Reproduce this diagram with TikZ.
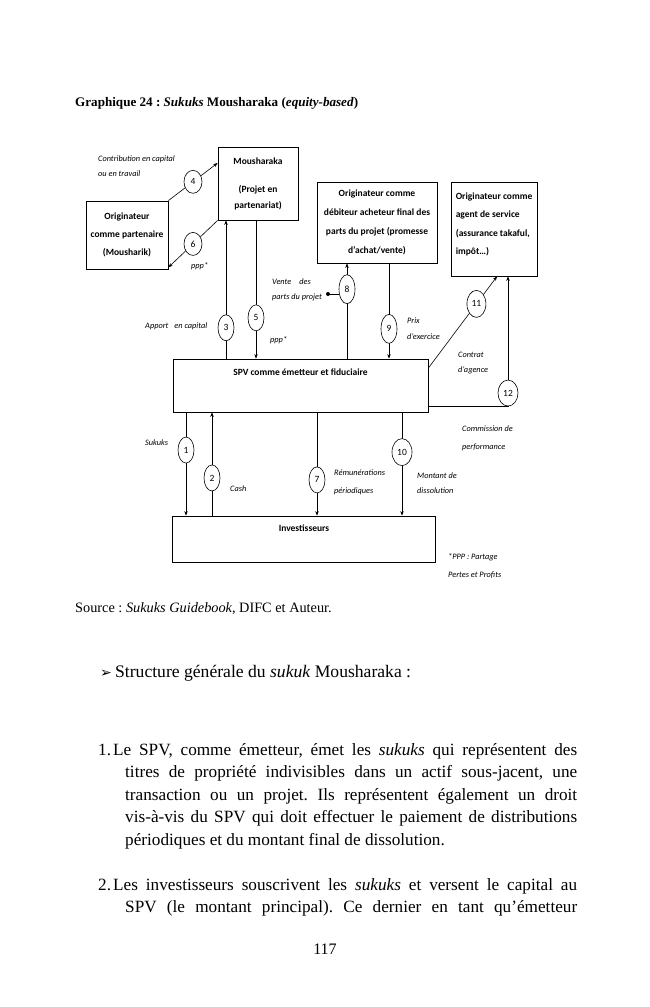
\documentclass[tikz,border=0pt]{standalone}
\usepackage{fontspec}
\setmainfont{Liberation Serif}
\newfontfamily\dia{Carlito}
\newfontfamily\dej{DejaVu Sans}
\usetikzlibrary{arrows.meta,shapes.geometric}
\newcommand{\bodyfont}{\fontsize{17.2}{22.5}\selectfont}
\frenchspacing
\begin{document}
\begin{tikzpicture}[x=1pt,y=-1pt,
 box/.style={draw, line width=0.8pt, inner sep=0pt, align=center, font=\dia\bfseries\fontsize{9.5}{18}\selectfont},
 boxtxt/.style={inner sep=0pt, font=\dia\bfseries\fontsize{9.5}{18}\selectfont},
 num/.style={draw, ellipse, fill=white, inner sep=0pt, line width=0.6pt, minimum width=16pt, minimum height=26pt, font=\dia\fontsize{9.5}{10}\selectfont},
 lab/.style={anchor=west, inner sep=0pt, align=left, font=\dia\itshape\fontsize{8.3}{15}\selectfont},
 conn/.style={line width=0.6pt},
 arr/.style={conn, -{Stealth[length=4.5pt,width=3.5pt]}},
 ptext/.style={anchor=base west, inner sep=0pt},
]
\useasboundingbox (0,0) rectangle (650,1007);
\fill[white] (0,0) rectangle (650,1007);

% title
\node[ptext, font=\bfseries\fontsize{13.1}{16}\selectfont] (title) at (75,106.5) {Graphique 24 : \textit{Sukuks} Mousharaka (\textit{equity-based})};

% boxes
\node[box, minimum width=82pt, minimum height=68pt] (op) at (127,235) {Originateur\\comme partenaire\\(Mousharik)};
\node[box, minimum width=80pt, minimum height=73pt, font=\dia\bfseries\fontsize{9.5}{16}\selectfont] (mous) at (258,183.5) {Mousharaka\\[12pt](Projet en\\partenariat)};
\node[box, minimum width=120pt, minimum height=81pt, font=\dia\bfseries\fontsize{9.5}{19}\selectfont] (deb) at (377,222.5) {Originateur comme\\débiteur acheteur final des\\parts du projet (promesse\\d’achat/vente)};
\node[box, minimum width=86pt, minimum height=94pt] (agent) at (494,229) {};
\node[boxtxt, anchor=north west, align=left, font=\dia\bfseries\fontsize{9.5}{18.3}\selectfont] (agenttxt) at ([xshift=5pt,yshift=-11pt]agent.north west) {Originateur comme\\agent de service\\(assurance takaful,\\impôt…)};
\node[box, minimum width=255pt, minimum height=53pt] (spv) at (300.5,385.5) {};
\node[boxtxt] (spvtxt) at (300.5,372) {SPV comme émetteur et fiduciaire};
\node[box, minimum width=263pt, minimum height=46pt] (inv) at (303.5,539) {};
\node[boxtxt] (invtxt) at (304,528.5) {Investisseurs};

% connectors
\draw[arr] (op.north east) -- node[num, minimum width=18pt, minimum height=23pt] {4} ([yshift=20.5pt]mous.west);
\draw[arr] (mous.south west) -- node[num, minimum width=18pt, minimum height=23pt] {6} ([yshift=2pt]op.south east);
\draw[arr] ([xshift=-74.5pt]spv.north) -- node[num, pos=0.223] {3} ([xshift=-32pt]mous.south);
\draw[arr] ([xshift=-2pt]mous.south) -- node[num, pos=0.705] {5} ([xshift=-44.5pt]spv.north);
\draw[arr] ([xshift=46.5pt]spv.north) -- node[num, minimum height=29pt, pos=0.729] (n8) {8} ([xshift=-30pt]deb.south);
\node[circle, fill, inner sep=0pt, minimum size=4pt] (dot) at (328,294) {};
\draw[conn] (dot.center) -- (dot.center -| n8.west);
\draw[arr] ([xshift=12pt]deb.south) -- node[num, minimum height=29pt, pos=0.6875] {9} ([xshift=88.5pt]spv.north);
\draw[arr] ([yshift=17.5pt]spv.east) -- node[num, minimum width=19pt, minimum height=27pt, pos=0.7] {11} ([xshift=3pt]agent.south);
\draw[arr] ([yshift=-20.5pt]spv.east) -| node[num, minimum width=20pt, minimum height=26pt, pos=0.55] {12} ([xshift=14pt]agent.south);
\draw[arr] ([xshift=-114.5pt]spv.south) -- node[num, pos=0.365] {1} ([xshift=-117.5pt]inv.north);
\draw[arr] ([xshift=-91.5pt]inv.north) -- node[num, pos=0.365] {2} ([xshift=-88.5pt]spv.south);
\draw[arr] ([xshift=16.5pt]spv.south) -- node[num, pos=0.654] {7} ([xshift=13.5pt]inv.north);
\draw[arr] ([xshift=101.5pt]spv.south) -- node[num, minimum width=20pt, minimum height=27pt, pos=0.385] {10} ([xshift=98.5pt]inv.north);

% labels
\node[lab] (l4) at (98,166.5) {Contribution en capital\\ou en travail};
\node[lab] (lppp1) at (191,266) {ppp*};
\node[lab] (lvente) at (272,289.5) {Vente\hspace{8pt}des\\parts du projet};
\node[lab] (lapport) at (145,326) {Apport\hspace{6pt}en capital};
\node[lab] (lppp2) at (270,340) {ppp*};
\node[lab, font=\dia\itshape\fontsize{8.3}{16}\selectfont] (lprix) at (407,329) {Prix\\d’exercice};
\node[lab] (lcontrat) at (458,363.5) {Contrat\\d’agence};
\node[lab, font=\dia\itshape\fontsize{8.3}{18}\selectfont] (lcomm) at (462,438) {Commission de\\performance};
\node[lab] (lsuk) at (145,443) {Sukuks};
\node[lab] (lcash) at (230,489) {Cash};
\node[lab, font=\dia\itshape\fontsize{8.3}{18}\selectfont] (lrem) at (334,482) {Rémunérations\\périodiques};
\node[lab] (lmont) at (417,483.5) {Montant de\\dissolution};
\node[lab, font=\dia\itshape\fontsize{8.3}{18}\selectfont] (lppp) at (448,566) {*PPP : Partage\\Pertes et Profits};

% text below
\node[ptext, font=\fontsize{14.3}{16}\selectfont] (src) at (75,612) {Source : \textit{Sukuks Guidebook}, DIFC et Auteur.};
\node[ptext, font=\fontsize{17.6}{20}\selectfont] (struct) at (100,677) {\makebox[15pt][l]{\dej\fontsize{14}{14}\selectfont ➢}Structure générale du \textit{sukuk} Mousharaka :};

\node[ptext] (p1) at (98,755) {\parbox[t]{479pt}{\bodyfont
\makebox[15pt][l]{1.}\makebox[464pt][s]{Le SPV, comme émetteur, émet les \textit{sukuks} qui représentent des}\par
\hspace*{27pt}\makebox[452pt][s]{titres de propriété indivisibles dans un actif sous-jacent, une}\par
\hspace*{27pt}\makebox[452pt][s]{transaction ou un projet. Ils représentent également un droit}\par
\hspace*{27pt}\makebox[452pt][s]{vis-à-vis du SPV qui doit effectuer le paiement de distributions}\par
\hspace*{27pt}périodiques et du montant final de dissolution.}};

\node[ptext] (p2) at (98,890) {\parbox[t]{479pt}{\bodyfont
\makebox[15pt][l]{2.}\makebox[464pt][s]{Les investisseurs souscrivent les \textit{sukuks} et versent le capital au}\par
\hspace*{27pt}\makebox[452pt][s]{SPV (le montant principal). Ce dernier en tant qu’émetteur}}};

\node[anchor=base, inner sep=0pt, font=\fontsize{16}{18}\selectfont] (pg) at (325,954) {117};
\end{tikzpicture}
\end{document}
